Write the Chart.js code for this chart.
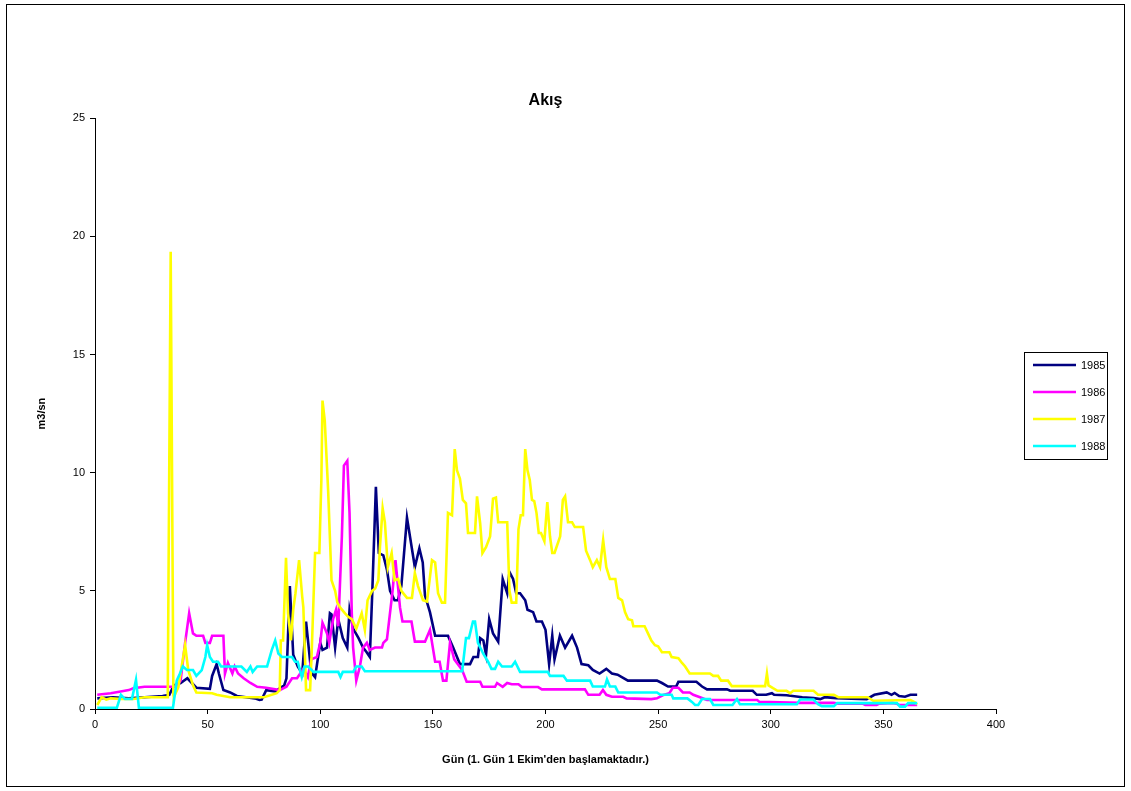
<!DOCTYPE html>
<html>
<head>
<meta charset="utf-8">
<script src="https://cdn.jsdelivr.net/npm/chart.js@4.4.0/dist/chart.umd.min.js"></script>
<style>
html,body{margin:0;padding:0;background:#fff;}
#wrap{width:1131px;height:791px;position:relative;}
</style>
</head>
<body>
<div id="wrap"><canvas id="c" width="1131" height="791"></canvas></div>
<script>
const seriesLabels = ['1985', '1986', '1987', '1988'];
const seriesColors = ['#000080', '#FF00FF', '#FFFF00', '#00FFFF'];
const xTicks = [0, 50, 100, 150, 200, 250, 300, 350, 400];
const yTicks = [0, 5, 10, 15, 20, 25];

const days1985 = [1,8,15,22,30,33,35,38,41,43,45,51,52,54,55,57,60,63,67,71,73,74,76,80,84,85,86.5,88,90,92,93.7,96,97.7,100,101,103,104.3,105,106.6,108,110,112,113,114.6,117,119,120.6,122,123,124.7,126,128,129.6,131,133,134.5,136,138.5,141,142,144,145.5,146.5,148.7,151,156.7,159,162,166.5,168,170,171,172.4,173.6,175,176.7,179,181,183,184,185.6,187,188.7,191,192,194.5,196,198.4,200,201.6,203,204,206.4,208.7,211.8,214,216,219,221,224,227,229.5,232,236.6,249.5,251.7,254.4,258,259,267,269.5,271.7,280.6,282,292,293.8,298,300.5,301.5,307,314,319,322,324,329,342.6,346,351.5,353.6,355,357,359.6,362,365];
const flow1985 = [0.45,0.5,0.45,0.5,0.55,0.6,1.0,1.1,1.3,1.1,0.9,0.85,1.4,1.9,1.5,0.8,0.7,0.55,0.5,0.45,0.38,0.4,0.8,0.75,1.0,1.3,5.2,2.3,1.8,1.5,3.7,1.55,1.35,2.8,2.5,2.6,4.05,4.0,2.6,3.8,3.0,2.6,4.2,3.4,3.0,2.6,2.4,2.2,4.7,9.4,6.6,6.5,5.9,5.0,4.6,4.6,5.2,8.1,6.6,6.0,6.8,6.2,4.8,4.1,3.1,3.1,2.6,1.9,1.9,2.2,2.2,3.0,2.9,2.3,3.8,3.2,2.85,5.5,4.9,5.8,5.5,4.9,4.9,4.6,4.2,4.1,3.7,3.7,3.35,1.9,3.1,2.1,3.1,2.6,3.1,2.6,1.9,1.85,1.65,1.5,1.7,1.5,1.45,1.2,1.2,1.1,0.95,0.95,1.15,1.15,0.95,0.83,0.83,0.77,0.77,0.6,0.6,0.67,0.6,0.58,0.5,0.46,0.42,0.5,0.46,0.42,0.6,0.7,0.6,0.68,0.55,0.52,0.6,0.6];

const days1986 = [1,7,12,15,17,22,33,36,38,40,41.8,43.5,45,48,49,51,52,57,57.7,59,61,62,63.5,66,69,72,76,82,85,87.5,89.7,92.5,94.5,96,98.5,100,101,103,104,105.7,107,108,109.6,110.5,112,113,114,114.6,116,117.6,119,120.7,122,124.3,127.4,128,129.6,132,133.4,134.2,135.4,136.5,140.5,142,146.5,148.7,151,153,154.5,156,157.6,159.5,163,165,171,172,177.6,178.5,181,183,185,188,189.5,196.7,198.4,217.5,219,224,225.5,227,229.5,234.5,236,247,249.5,252,255,256.5,259,261,264,265.6,268.6,271.7,294,295,313,328,330,341,342,347,348,354,356,357,365];
const flow1986 = [0.6,0.67,0.75,0.8,0.88,0.94,0.94,0.94,1.2,2.8,4.05,3.2,3.1,3.1,2.8,2.8,3.1,3.1,1.5,1.95,1.5,1.8,1.5,1.3,1.1,0.94,0.9,0.8,0.94,1.3,1.3,1.7,1.35,2.1,2.2,2.8,3.65,3.2,2.8,3.8,4.2,3.5,7.3,10.3,10.5,8.3,4.05,2.6,1.2,1.8,2.6,2.8,2.5,2.6,2.6,2.8,2.95,4.9,6.3,5.5,4.3,3.7,3.7,2.85,2.85,3.35,2.0,2.0,1.2,1.2,2.8,2.1,1.65,1.15,1.15,0.94,0.94,1.1,0.94,1.1,1.05,1.05,0.93,0.93,0.83,0.83,0.6,0.6,0.8,0.6,0.52,0.52,0.45,0.42,0.45,0.58,0.67,0.9,0.9,0.7,0.7,0.6,0.5,0.38,0.38,0.3,0.26,0.26,0.22,0.22,0.17,0.17,0.22,0.26,0.22,0.17,0.17];

const days1987 = [1,3,5,7,12,17,22,32,32.3,33.6,34.8,35,37,40,41.4,43.5,45,52,54,60,75,80.7,82,82.5,83.5,84.8,85.7,87,88,89,90.6,92,92.5,93.7,95.5,96.2,97.7,99.6,100.5,101,102,103.5,105,106.6,107.6,108.8,111,112.4,114,116,118.4,119.8,121,123,124.4,125.8,126.5,127.7,128.7,130,131.7,133,134.6,136,138.5,140.7,142,143.4,145.6,147.4,149.6,151,152.3,154,155.4,156.7,158.5,159.7,160.7,162,163.3,164.7,165.6,168.7,169.6,171,172,173.6,175.4,176.7,178,179,183,184,185,187,188,189,190,191,192,193,194,195,196,197,198,199.5,200.8,202,203,204,206.5,207.7,208.7,210,211.8,213,216.7,218,219.8,221,222.8,224.2,225.6,227,228.6,231,232.3,234,235.3,236.7,238.4,239,244,245.5,247,248.6,250,251.7,255,256,259,260.6,262,264,273,274.5,276.6,278,281,282.7,297.5,298.3,299,301,303,307,308.6,310,319,321,328,330,343,345.5,362,364,365];
const flow1987 = [0.17,0.5,0.4,0.45,0.42,0.42,0.5,0.5,0.6,19.35,0.6,0.5,0.93,2.7,1.65,1.0,0.7,0.67,0.6,0.5,0.5,0.67,0.8,2.9,2.9,6.4,4.05,2.9,4.2,4.9,6.3,4.75,4.3,0.8,0.8,2.4,6.6,6.6,9.7,13.05,12.2,9.25,5.45,5.0,4.5,4.3,4.05,3.9,3.8,3.4,4.05,3.35,4.6,5.0,5.1,5.45,6.85,8.5,7.9,6.0,6.6,5.45,5.5,5.0,4.7,4.7,5.75,5.2,4.6,4.55,6.3,6.2,4.9,4.5,4.5,8.3,8.2,11.0,10.1,9.75,8.85,8.7,7.45,7.45,9.0,7.85,6.6,6.85,7.3,8.9,8.95,7.9,7.9,5.0,4.5,4.5,7.6,8.2,8.2,11.0,10.1,9.7,8.85,8.8,8.3,7.45,7.45,7.1,8.75,7.3,6.6,6.6,7.3,8.85,9.0,7.9,7.9,7.7,7.7,6.7,6.3,6.0,6.3,6.0,7.15,6.0,5.5,5.5,4.7,4.6,4.1,3.8,3.75,3.5,3.5,3.2,2.9,2.7,2.65,2.4,2.4,2.2,2.15,1.95,1.8,1.5,1.5,1.4,1.4,1.2,1.2,0.97,0.97,1.5,1.0,0.88,0.77,0.77,0.67,0.77,0.77,0.6,0.6,0.5,0.5,0.35,0.38,0.28,0.2];

const days1988 = [1,9.7,11.5,13.3,16.4,18.2,19.5,34.6,36.3,37.7,39,40.8,43.5,45,47.4,49,49.8,51,52.4,54.6,56,65,67.4,69,70,72,76.4,78.5,80,81.4,83,87.5,88.8,90,91.8,93,94.6,97,108,109,110,114.6,116,118.4,119.8,163,164.7,166,167.8,168.7,170,172.3,174.5,176,177.6,179,180.7,185,186.5,188.7,201,202,208,209.5,219.8,221,226.4,227.3,228.6,231,232.3,249.5,251,256,256.7,263,265,266.4,267.8,269.5,273,274.5,283,285,286.3,311.6,313,319,321,322.7,328,329.5,356,357.4,359.6,361,365];
const flow1988 = [0.05,0.05,0.6,0.42,0.42,1.23,0.05,0.05,1.2,1.5,1.8,1.65,1.65,1.4,1.65,2.2,2.7,2.2,2.0,2.0,1.8,1.8,1.57,1.8,1.57,1.8,1.8,2.5,2.9,2.35,2.2,2.2,2.0,2.0,1.35,1.8,1.8,1.57,1.57,1.35,1.57,1.57,1.8,1.8,1.6,1.6,3.0,3.0,3.7,3.7,2.8,2.35,2.0,1.7,1.7,2.0,1.8,1.8,2.0,1.57,1.57,1.4,1.4,1.2,1.2,0.95,0.95,1.25,0.95,0.95,0.7,0.7,0.6,0.6,0.45,0.45,0.3,0.17,0.17,0.42,0.42,0.17,0.17,0.42,0.2,0.2,0.4,0.4,0.2,0.12,0.12,0.25,0.25,0.1,0.1,0.25,0.25];

const allDays = [days1985, days1986, days1987, days1988];
const allFlows = [flow1985, flow1986, flow1987, flow1988];

const FONT = '"Liberation Sans", Arial, sans-serif';

const datasets = seriesLabels.map((lab, i) => ({
  label: lab,
  data: allDays[i].map((d, k) => ({x: d, y: allFlows[i][k]})),
  borderColor: seriesColors[i],
  backgroundColor: seriesColors[i],
  borderWidth: 2.6,
  pointRadius: 0,
  pointHoverRadius: 0,
  tension: 0,
  fill: false,
  order: 4 - i
}));

const framePlugin = {
  id: 'frameLegend',
  afterDraw(chart) {
    const ctx = chart.ctx;
    ctx.save();
    // outer frame
    ctx.strokeStyle = '#000';
    ctx.lineWidth = 1;
    ctx.strokeRect(6.5, 4.5, 1118, 782);
    // legend
    const bx = 1024.5, by = 352.5, bw = 83, bh = 107;
    ctx.strokeRect(bx, by, bw, bh);
    ctx.font = '11px ' + FONT;
    ctx.textBaseline = 'middle';
    ctx.textAlign = 'left';
    chart.data.datasets.forEach((ds, i) => {
      const y = 365 + i * 27;
      ctx.strokeStyle = ds.borderColor;
      ctx.lineWidth = 2.6;
      ctx.beginPath();
      ctx.moveTo(1033, y);
      ctx.lineTo(1076, y);
      ctx.stroke();
      ctx.fillStyle = '#000';
      ctx.fillText(ds.label, 1081, y + 0.5);
    });
    ctx.restore();
  }
};

new Chart(document.getElementById('c'), {
  type: 'line',
  data: { datasets },
  options: {
    responsive: false,
    animation: false,
    events: [],
    layout: { padding: { left: 0, right: 135, top: 0, bottom: 0 } },
    plugins: {
      legend: { display: false },
      tooltip: { enabled: false },
      title: {
        display: true,
        text: 'Akış',
        color: '#000',
        fullSize: false,
        font: { family: FONT, size: 16, weight: 'bold' },
        padding: { top: 91, bottom: 8 }
      }
    },
    scales: {
      x: {
        type: 'linear',
        min: 0, max: 400,
        afterFit(s) { s.height = 82; },
        afterBuildTicks(s) { s.ticks = xTicks.map(v => ({ value: v })); },
        ticks: { color: '#000', font: { family: FONT, size: 11 }, padding: 4, maxRotation: 0, autoSkip: false },
        grid: { display: true, drawOnChartArea: false, drawTicks: true, tickLength: 5, color: '#000' },
        border: { display: true, color: '#000', width: 1 },
        title: { display: true, text: "Gün (1. Gün 1 Ekim'den başlamaktadır.)", color: '#000', font: { family: FONT, size: 11, weight: 'bold' }, padding: { top: 0, bottom: 24 } }
      },
      y: {
        type: 'linear',
        min: 0, max: 25,
        afterFit(s) { s.width = 95; },
        afterBuildTicks(s) { s.ticks = yTicks.map(v => ({ value: v })); },
        ticks: { color: '#000', font: { family: FONT, size: 11 }, padding: 5, autoSkip: false },
        grid: { display: true, drawOnChartArea: false, drawTicks: true, tickLength: 5, color: '#000' },
        border: { display: true, color: '#000', width: 1 },
        title: { display: true, text: 'm3/sn', color: '#000', font: { family: FONT, size: 11, weight: 'bold' }, padding: { top: 35, bottom: 0 } }
      }
    }
  },
  plugins: [framePlugin]
});
</script>
</body>
</html>
